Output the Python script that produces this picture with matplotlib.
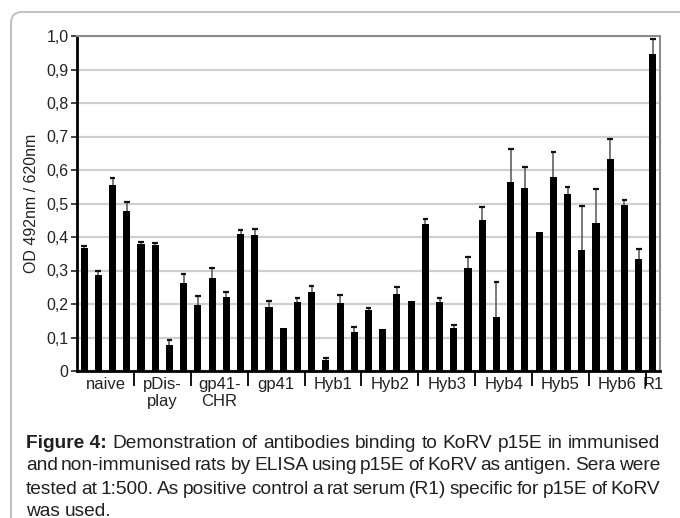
import matplotlib
matplotlib.use('Agg')
import matplotlib.pyplot as plt
from matplotlib.patches import FancyBboxPatch
import numpy as np

plt.rcParams['font.family'] = ['Liberation Sans', 'DejaVu Sans']

# group labels and number of sera per group
groups = ['naive', 'pDis-\nplay', 'gp41-\nCHR', 'gp41', 'Hyb1', 'Hyb2',
          'Hyb3', 'Hyb4', 'Hyb5', 'Hyb6', 'R1']
group_sizes = [4, 4, 4, 4, 4, 4, 4, 4, 4, 4, 1]

# OD 492nm / 620nm per serum
od = [0.367, 0.287, 0.556, 0.477,
      0.379, 0.375, 0.078, 0.262,
      0.197, 0.278, 0.221, 0.410,
      0.406, 0.190, 0.128, 0.206,
      0.236, 0.033, 0.203, 0.117,
      0.182, 0.125, 0.230, 0.209,
      0.440, 0.205, 0.128, 0.307,
      0.450, 0.160, 0.565, 0.546,
      0.415, 0.579, 0.528, 0.361,
      0.442, 0.633, 0.496, 0.334,
      0.946]
# upper error (SD)
err = [0.005, 0.012, 0.020, 0.027,
       0.006, 0.007, 0.015, 0.028,
       0.027, 0.029, 0.015, 0.010,
       0.018, 0.020, 0.000, 0.012,
       0.018, 0.007, 0.024, 0.014,
       0.006, 0.000, 0.020, 0.000,
       0.014, 0.013, 0.010, 0.033,
       0.040, 0.106, 0.097, 0.064,
       0.000, 0.075, 0.022, 0.132,
       0.101, 0.060, 0.014, 0.030,
       0.045]

yticks = [0, 0.1, 0.2, 0.3, 0.4, 0.5, 0.6, 0.7, 0.8, 0.9, 1.0]
ytick_labels = ['0', '0,1', '0,2', '0,3', '0,4', '0,5', '0,6', '0,7', '0,8', '0,9', '1,0']

W, H = 680, 518
fig = plt.figure(figsize=(W / 100, H / 100), dpi=100)
fig.patch.set_facecolor('white')

# background overlay in pixel coordinates (frame + caption)
bg = fig.add_axes([0, 0, 1, 1], zorder=0)
bg.set_xlim(0, W)
bg.set_ylim(H, 0)
bg.axis('off')
frame = FancyBboxPatch((11, 12), 700, 560, boxstyle='round,pad=0,rounding_size=11',
                       facecolor='none', edgecolor='#c4c4c4', linewidth=1.5)
bg.add_patch(frame)

# main chart
ax = fig.add_axes([77 / W, 1 - 371 / H, (660 - 77) / W, (371 - 36) / H], zorder=1)
ax.set_facecolor('none')
x = np.arange(len(od))
od_a = np.array(od)
err_a = np.array(err)

ax.bar(x, od_a, width=0.5, color='black', zorder=3)
m = err_a > 0
ax.vlines(x[m], od_a[m], od_a[m] + err_a[m], color='#555555', linewidth=1.1, zorder=2)
ax.hlines(od_a[m] + err_a[m], x[m] - 0.2, x[m] + 0.2, color='#111111', linewidth=1.6, zorder=4)

ax.set_xlim(-0.5, len(od) - 0.5)
ax.set_ylim(0, 1.0)
ax.set_yticks(yticks)
ax.set_yticklabels(ytick_labels, fontsize=11.5, color='#222222')
ax.yaxis.grid(True, color='#cfcfcf', linewidth=1.6, zorder=0)
ax.set_axisbelow(True)
ax.tick_params(axis='y', length=4, width=1.2, pad=2, colors='#222222')

# group label positions and separators
bounds = np.cumsum(group_sizes)
starts = bounds - np.array(group_sizes)
centers = (starts + bounds - 1) / 2.0
ax.set_xticks(centers)
ax.set_xticklabels(groups, fontsize=12, color='#222222', linespacing=1.2)
ax.set_xticks(bounds[:-1] - 0.5, minor=True)
ax.tick_params(axis='x', which='major', length=0, pad=4)
ax.tick_params(axis='x', which='minor', length=11, width=1.3, color='black', direction='out')

for s in ['left', 'bottom']:
    ax.spines[s].set_linewidth(2)
    ax.spines[s].set_color('black')
for s in ['top', 'right']:
    ax.spines[s].set_linewidth(1.5)
    ax.spines[s].set_color('#8c8c8c')

ax.set_ylabel('OD 492nm / 620nm', fontsize=11.5, color='#222222', labelpad=5)

# justified caption
caption = [
    [('Figure 4:', True), 'Demonstration', 'of', 'antibodies', 'binding', 'to', 'KoRV',
     'p15E', 'in', 'immunised'],
    'and non-immunised rats by ELISA using p15E of KoRV as antigen. Sera were'.split(),
    'tested at 1:500. As positive control a rat serum (R1) specific for p15E of KoRV'.split(),
    'was used.'.split(),
]
line_y = [443, 466, 489, 511]
left, right = 26, 660
renderer = fig.canvas.get_renderer()
for i, (words, yy) in enumerate(zip(caption, line_y)):
    texts = []
    for w in words:
        bold = False
        if isinstance(w, tuple):
            w, bold = w
        t = bg.text(0, yy, w, fontsize=13.8, color='#231f20', va='center', ha='left',
                    fontweight='bold' if bold else 'normal')
        texts.append(t)
    widths = [t.get_window_extent(renderer).width for t in texts]
    if i < len(caption) - 1:
        gap = (right - left - sum(widths)) / (len(texts) - 1)
    else:
        gap = 4.5
    xx = left
    for t, wd in zip(texts, widths):
        t.set_x(xx)
        xx += wd + gap

fig.savefig('out.png', dpi=100, facecolor='white')
plt.close(fig)
